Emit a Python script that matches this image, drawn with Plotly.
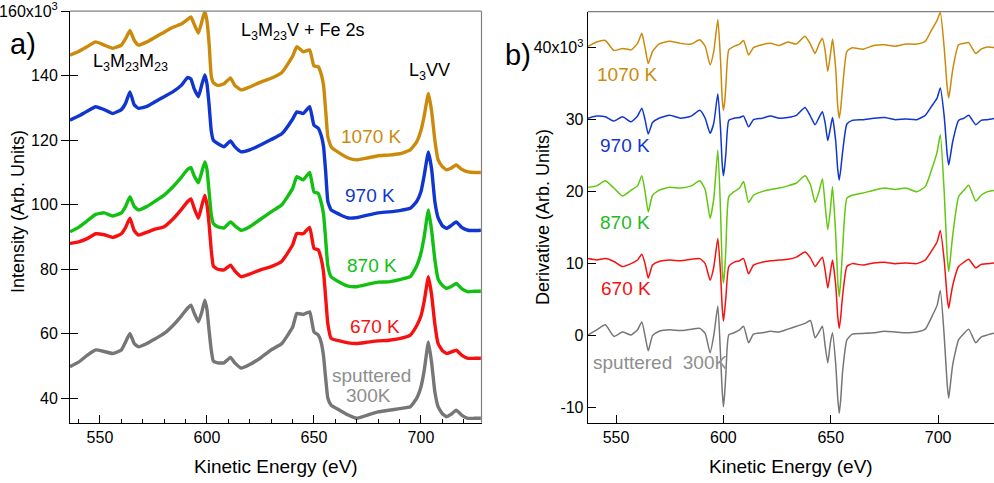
import plotly.graph_objects as go

# ---------------- Panel a: Auger spectra (intensity, x10^3) ----------------
energy_a = [536, 540, 544, 548, 552, 556, 560, 562, 564, 566, 568, 572, 576, 580, 584, 588,
            591, 592.5, 594, 596, 597.5, 599, 600, 601, 602, 603, 605, 608, 611, 613, 616,
            620, 625, 630, 635, 640, 642, 645, 648, 650, 652, 653.5, 654.5, 655.5, 656.5,
            658, 662, 666, 670, 675, 680, 685, 690, 695, 698, 700, 701.5, 703.5, 705, 706.5,
            708, 710, 712, 714, 716.5, 719, 722, 725, 728]

int_1070 = [146.4, 147.5, 149, 150.5, 149.5, 148.5, 149.5, 151.5, 154, 151, 149.5, 150.5, 152, 153.5, 155, 156,
            157.5, 158.2, 156, 153.2, 156.5, 160, 157, 150, 140, 137.8, 137, 137.5, 139.3, 137, 135.6,
            136.5, 138, 139.2, 141, 146, 149, 147.4, 148, 143, 142.8, 140.2, 137, 129, 121,
            118, 116, 114.5, 113.9, 114.5, 115.2, 115.4, 115.8, 117, 119.5, 123, 127.5, 134.5, 129, 120,
            114, 111.8, 110.8, 111.3, 112.3, 111, 110.2, 110, 110]

int_970 = [126.2, 127.5, 129, 130.4, 129.5, 128.3, 129.5, 131.5, 135, 131, 129.9, 130.5, 132, 133.5, 135, 137,
           139.5, 139, 136, 133.5, 137, 140.2, 137.5, 131, 123, 120, 119, 118, 119.8, 118, 116.4,
           117, 118.5, 120.2, 122, 126.5, 128.8, 128.3, 130.4, 124.7, 123.7, 121.2, 118, 110, 101,
           98.4, 97, 95.9, 96, 96.8, 97.5, 97.8, 98.2, 98.9, 101, 104, 109, 116.4, 111, 101,
           96, 93.5, 92.7, 93.5, 94.7, 93, 92.1, 92, 92.1]

int_870 = [91.6, 93, 95, 97, 97.5, 96.5, 97.5, 99.5, 102.5, 99.5, 98.4, 99.5, 101.2, 103, 105.5, 108.5,
           111, 111.5, 109, 106.8, 110, 113.3, 111, 104, 97, 94.2, 93.2, 92.8, 94.7, 93.5, 92.1,
           93.2, 95.5, 97.8, 100, 105, 108.7, 107.7, 110, 104, 103.5, 100.4, 97, 89, 81,
           77.7, 76, 74.8, 74.6, 75.3, 76, 76.1, 76.8, 77.7, 81, 85, 90, 98.4, 92, 83,
           77, 75, 74.1, 74.6, 75.6, 74, 73, 73.2, 73.2]

int_670 = [88, 88.5, 89.5, 91, 90.7, 89.9, 91, 93, 95.8, 92, 90.6, 91.5, 92.5, 93.2, 95.5, 98.5,
           101, 101.8, 99, 95.8, 99.5, 103, 100, 94, 86, 81, 80, 79.8, 81.3, 79.5, 77.7,
           78.5, 79.8, 80.8, 82.5, 87.5, 91.1, 91, 93, 86.5, 86, 82.9, 79, 71, 63,
           58.6, 57.8, 57.2, 57, 57.4, 57.8, 58, 58.5, 59.6, 62.5, 65.5, 70, 77.7, 72, 63,
           57, 54.8, 53.9, 54.3, 54.9, 53.4, 52.4, 52.4, 52.4]

int_300 = [49.8, 51.2, 53.3, 55, 54.5, 53.9, 55, 57.5, 60.1, 57, 56, 57, 58.5, 60.1, 62.5, 65.5,
           68, 68.9, 66.5, 63.7, 66.5, 70.4, 67.5, 61, 55, 51.5, 51, 51, 52.7, 51, 49.4,
           50.5, 52.5, 55, 57, 62, 66.3, 66, 66.8, 60.6, 59.6, 57, 53, 46, 40,
           37.9, 36.3, 34.8, 33.8, 34.8, 35.8, 36.3, 36.8, 37.4, 40, 43.5, 48.5, 57.5, 51, 42,
           37.4, 35.2, 34.3, 35, 36.3, 34.8, 33.8, 33.8, 33.8]

# ---------------- Panel b: derivative spectra (x10^3) ----------------
energy_b = [537, 541, 545, 549, 553, 557, 560, 562, 563.5, 565, 567, 570, 575, 580, 585, 589,
            591.5, 593.8, 595.5, 597.4, 598.7, 599.4, 600, 600.6, 601.2, 602.5, 605, 607.5, 609.4, 611.7, 614,
            618, 622, 626, 630, 634, 638, 640.5, 642.7, 644.5, 646.1, 647.4, 648.6, 649.8, 650.8,
            652.3, 653.2, 653.9, 654.6, 655.5, 657.5, 660, 665, 670, 675, 680, 685, 690, 694, 697, 699.5, 701,
            702.8, 704.2, 704.9, 705.6, 706.8, 709.5, 712, 714.2, 717.5, 720, 723, 727]

der_1070 = [40.2, 40.8, 41, 39.6, 39.9, 39.7, 40.6, 42, 40, 37.8, 39.5, 40.5, 40.9, 40.6, 40.5, 41.1,
            40.2, 37.6, 39.5, 43.9, 38, 33.0, 31.3, 32.5, 35, 39.7, 40.2, 40.5, 41, 39, 40,
            40.4, 40.6, 40.3, 40.8, 40.5, 41.6, 40.5, 39.2, 40.5, 41.3, 39.5, 36.7, 39, 41.2,
            37, 32.0, 30.2, 31.5, 34.5, 39.5, 40, 39.8, 40.3, 40.4, 40.2, 40.5, 40.5, 40.9, 42.5, 43.8, 44.9,
            40, 34.5, 33, 34.3, 37, 40.4, 40.6, 40.7, 39.2, 39.8, 40.1, 40]

der_970 = [30.2, 30.5, 30.4, 29.8, 30.4, 29.7, 30.5, 31.6, 30, 28, 29.6, 30.2, 30.6, 30.2, 30.5, 31.3,
           30.2, 28.1, 29.5, 33.6, 28.5, 24.0, 22.2, 23.5, 25.5, 29.9, 30.2, 30.3, 30.5, 29, 30,
           30.2, 30.5, 30.2, 30.3, 30.6, 31.7, 30.5, 29.3, 30.3, 31.1, 29.5, 27.1, 28.8, 30.3,
           27, 23.2, 21.6, 23.0, 25.5, 29.4, 29.9, 30, 30.2, 30.3, 30, 30.1, 30, 30.6, 31.9, 33, 34.4,
           30.5, 25.2, 23.7, 24.8, 27, 29.9, 30.2, 30.6, 29.3, 29.9, 30, 30.2]

der_870 = [20.6, 20.8, 21.5, 20.5, 19.4, 20.2, 20.8, 22.2, 20, 17.2, 19.5, 20.2, 20.6, 20.5, 20.8, 21.5,
           20.3, 16.3, 19, 25.8, 17, 9.5, 7.3, 9.0, 12.5, 19.3, 20, 20.5, 21.4, 18.5, 19.5,
           20, 20.3, 20.5, 20.8, 21.2, 22.2, 21, 18.5, 20, 21.8, 18, 14.7, 17.5, 20.7,
           14, 7.8, 5.4, 7.5, 12, 19.1, 19.5, 19.8, 20.2, 20.5, 20.3, 20.5, 20, 20.7, 23.1, 25.5, 27.9,
           20, 11.0, 8.9, 10.5, 14, 19.3, 20.2, 20.9, 18.7, 19.5, 20, 20.2]

der_670 = [10.7, 10.5, 10.7, 10.3, 9.6, 10, 10.5, 11.3, 10, 8, 9.8, 10.3, 10.5, 10.4, 10.6, 10.7,
           10, 7.7, 9.5, 13.5, 8.5, 4.0, 2, 3.5, 5.5, 9.6, 10.2, 10.4, 10.7, 8.6, 9.8,
           10.2, 10.4, 10.5, 10.6, 10.9, 11.6, 10.8, 9.6, 10.3, 10.9, 9, 6.6, 8.8, 10.5,
           7, 2.8, 1, 2.5, 5.5, 9.6, 10, 9.8, 10.1, 10.2, 10, 10.1, 10, 10.5, 11.8, 13, 14.6,
           10.5, 5.3, 3.8, 5.0, 7, 9.6, 10.2, 10.6, 9.4, 9.9, 10, 10.1]

der_300 = [0.1, 0.8, 1.5, -0.1, 0.5, 0.1, 0.8, 1.9, 0, -2.1, 0, 0.6, 0.8, 0.7, 0.9, 1,
           0.3, -2.4, 0, 4.1, -3, -7.5, -9.9, -8.0, -5, 0.1, 0.4, 0.8, 1.3, -1, 0.2,
           0.4, 0.6, 0.5, 0.9, 1.3, 1.7, 2.1, -0.3, 0.5, 1.3, -1.5, -3.8, -1, 0.4,
           -4, -8.5, -10.8, -9.0, -5, -0.6, 0.2, 0.3, 0.4, 0.6, 0.5, 0.4, 0.5, 0.9, 2.6, 4.2, 6.25,
           0, -6.8, -8.7, -7.0, -4, -0.6, 0.3, 0.9, -1, -0.2, 0.1, 0.4]

ticks_a_vals = [40, 60, 80, 100, 120, 140, 160]
ticks_a_text = ["40", "60", "80", "100", "120", "140", "160x10<sup>3</sup>"]
ticks_b_vals = [-10, 0, 10, 20, 30, 40]
ticks_b_text = ["-10", "0", "10", "20", "30", "40x10<sup>3</sup>"]
ticks_x_vals = [550, 600, 650, 700]

labels_a = ["1070 K", "970 K", "870 K", "670 K"]
labels_b = ["1070 K", "970 K", "870 K", "670 K", "sputtered  300K"]

C_OR = "#CC8A0C"
C_BL = "#1136CF"
C_GR_A = "#12C012"
C_GR_B = "#62C70E"
C_RD = "#F71010"
C_GY = "#767676"
C_GYT = "#8E8E8E"

W, H = 994, 483
FONT = "Liberation Sans, Arial, Helvetica, sans-serif"

def PX(x):
    return x / W

def PY(y):
    return 1 - y / H

fig = go.Figure()

series_a = [(int_1070, C_OR), (int_970, C_BL), (int_870, C_GR_A), (int_670, C_RD), (int_300, C_GY)]
for vals, col in series_a:
    fig.add_trace(go.Scatter(x=energy_a, y=vals, mode="lines",
                             line=dict(color=col, width=3.4, shape="spline", smoothing=0.4),
                             xaxis="x", yaxis="y", showlegend=False, hoverinfo="skip"))

series_b = [(der_1070, C_OR), (der_970, C_BL), (der_870, C_GR_B), (der_670, C_RD), (der_300, C_GY)]
for vals, col in series_b:
    fig.add_trace(go.Scatter(x=energy_b, y=vals, mode="lines",
                             line=dict(color=col, width=1.5, shape="spline", smoothing=0.5),
                             xaxis="x2", yaxis="y2", showlegend=False, hoverinfo="skip"))

# invisible trace so the inner-tick overlay axis is drawn
fig.add_trace(go.Scatter(x=[600], y=[100], mode="markers", marker=dict(opacity=0),
                         xaxis="x", yaxis="y3", showlegend=False, hoverinfo="skip"))

ax_common = dict(showgrid=False, zeroline=False, showline=True, linecolor="black",
                 linewidth=1, tickcolor="black", tickwidth=1, automargin=False,
                 tickfont=dict(family=FONT, size=16, color="black"))

a_left, a_right, a_top, a_bot = 70, 481.5, 11.2, 422.5
b_left, b_right, b_top, b_bot = 587.7, 994, 11.7, 422.7

fig.update_layout(
    width=W, height=H,
    margin=dict(l=0, r=0, t=0, b=0, autoexpand=False),
    paper_bgcolor="white", plot_bgcolor="white",
    font=dict(family=FONT, color="black"),
    xaxis=dict(domain=[PX(a_left), PX(a_right)], range=[536, 728.3], anchor="y",
               tickvals=ticks_x_vals, ticks="inside", ticklen=8,
               minor=dict(dtick=10, tick0=0, ticks="inside", ticklen=4,
                          tickcolor="black", tickwidth=1),
               **ax_common),
    yaxis=dict(domain=[PY(a_bot), PY(a_top)], range=[32.5, 160], anchor="x",
               tickvals=ticks_a_vals, ticktext=ticks_a_text, ticks="outside", ticklen=8,
               **ax_common),
    yaxis3=dict(overlaying="y", anchor="x", range=[32.5, 160], tickvals=ticks_a_vals,
                ticks="inside", ticklen=8, tickcolor="black", showticklabels=False,
                showline=False, showgrid=False, zeroline=False, automargin=False),
    xaxis2=dict(domain=[PX(b_left), PX(b_right)], range=[536.8, 726.0], anchor="y2",
                tickvals=ticks_x_vals, ticks="inside", ticklen=8, **ax_common),
    yaxis2=dict(domain=[PY(b_bot), PY(b_top)], range=[-12.1, 45], anchor="x2",
                tickvals=ticks_b_vals, ticktext=ticks_b_text, ticks="inside", ticklen=8,
                **ax_common),
)

# gray frame lines (top/right)
fig.add_shape(type="line", xref="paper", yref="paper", x0=PX(a_left), x1=PX(a_right),
              y0=PY(a_top), y1=PY(a_top), line=dict(color="#808080", width=1.2))
fig.add_shape(type="line", xref="paper", yref="paper", x0=PX(a_right), x1=PX(a_right),
              y0=PY(a_top), y1=PY(a_bot), line=dict(color="#808080", width=1.2))
fig.add_shape(type="line", xref="paper", yref="paper", x0=PX(b_left), x1=PX(b_right),
              y0=PY(b_top), y1=PY(b_top), line=dict(color="#808080", width=1.2))

def ann(text, x, y, size, color="black", xref="paper", yref="paper", angle=0, xanchor="center"):
    fig.add_annotation(text=text, x=x, y=y, xref=xref, yref=yref, showarrow=False,
                       font=dict(family=FONT, size=size, color=color), textangle=angle,
                       xanchor=xanchor, yanchor="middle")

# panel letters
ann("a)", PX(23), PY(44), 29)
ann("b)", PX(518), PY(55), 29)

# axis titles
ann("Intensity (Arb. Units)", PX(18), PY(212), 18, angle=-90)
ann("Derivative (Arb. Units)", PX(543), PY(217), 18, angle=-90)
ann("Kinetic Energy (eV)", PX(276), PY(466), 19)
ann("Kinetic Energy (eV)", PX(791), PY(466), 19)

# transition labels (panel a data coords)
ann("L<sub>3</sub>M<sub>23</sub>M<sub>23</sub>", 564.5, 144.2, 18, xref="x", yref="y")
ann("L<sub>3</sub>M<sub>23</sub>V + Fe 2s", 645.1, 153.6, 18, xref="x", yref="y")
ann("L<sub>3</sub>VV", 704.2, 141.2, 18, xref="x", yref="y")

# series labels panel a
lab_a_cols = [C_OR, C_BL, C_GR_A, C_RD]
lab_a_pos = [(677, 121.1), (676.2, 103.0), (677, 81.1), (678.5, 62.4)]
for t, c, (xx, yy) in zip(labels_a, lab_a_cols, lab_a_pos):
    ann(t, xx, yy, 19, color=c, xref="x", yref="y")
ann("sputtered", 677, 47.0, 19, color=C_GYT, xref="x", yref="y")
ann("300K", 675.7, 40.8, 19, color=C_GYT, xref="x", yref="y")

# series labels panel b
lab_b_cols = [C_OR, C_BL, "#22BB22", C_RD, C_GYT]
lab_b_pos = [(555.4, 36.3), (554.2, 26.4), (554.2, 15.7), (554.7, 6.6), (570.6, -3.7)]
for t, c, (xx, yy) in zip(labels_b, lab_b_cols, lab_b_pos):
    ann(t, xx, yy, 19, color=c, xref="x2", yref="y2")

fig.write_html("out.html", config={"displayModeBar": False},
               post_script="document.body.style.margin='0px';")
